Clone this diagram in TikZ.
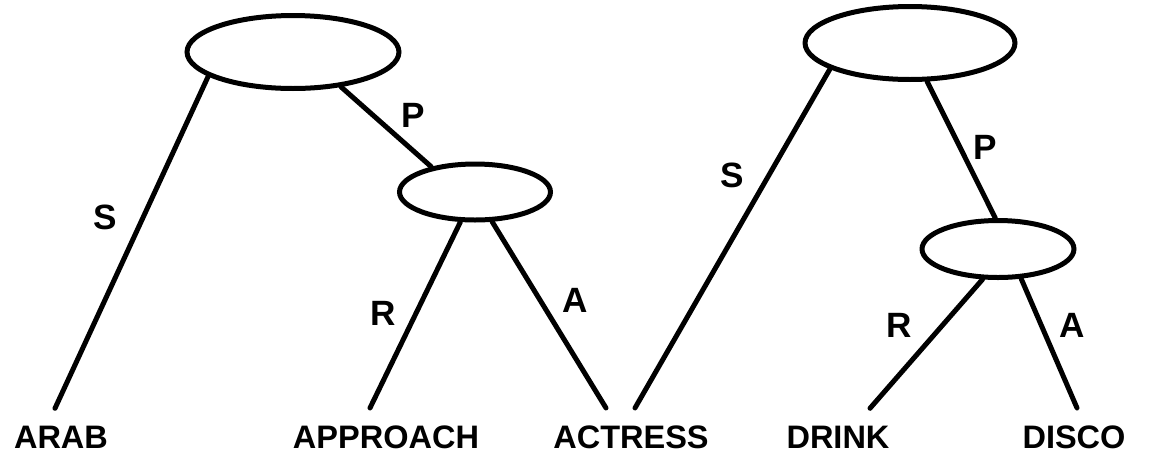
\documentclass[tikz,border=0pt]{standalone}
\usepackage{fontspec}
\setmainfont{Liberation Sans}
\usetikzlibrary{shapes.geometric}

\begin{document}
\begin{tikzpicture}[
        x=0.02cm, y=-0.02cm,
        frame/.style={draw, ellipse, line width=0.1cm, inner sep=0pt},
        word/.style={font=\bfseries\fontsize{18.5}{22}\selectfont, anchor=base,
                     inner xsep=0pt, inner ysep=0.34cm},
        role/.style={font=\bfseries\fontsize{20}{24}\selectfont, inner sep=0pt},
        link/.style={line width=0.1cm, line cap=round},
    ]
    \useasboundingbox (0,0) rectangle (1164,458);

    % ---------- frames ----------------------------------------------------
    \node[frame, minimum width=4.24cm, minimum height=1.46cm] (rootL) at ( 293, 52) {};
    \node[frame, minimum width=3.02cm, minimum height=1.12cm] (predL) at ( 475,192) {};
    \node[frame, minimum width=4.20cm, minimum height=1.46cm] (rootR) at ( 910, 43) {};
    \node[frame, minimum width=3.04cm, minimum height=1.14cm] (predR) at ( 998,249) {};

    % ---------- words -----------------------------------------------------
    \node[word] (arab)     at (  61,448) {ARAB};
    \node[word] (approach) at ( 386,448) {APPROACH};
    \node[word] (actress)  at ( 631,448) {ACTRESS};
    \node[word] (drink)    at ( 838,448) {DRINK};
    \node[word] (disco)    at (1074,448) {DISCO};

    % ---------- links -----------------------------------------------------
    \draw[link] (rootL.196) -- ([xshift=-0.12cm]arab.north);
    \draw[link] (rootL.324) -- (predL.150);
    \draw[link] (predL.244) -- ([xshift=-0.32cm]approach.north);
    \draw[link] (predL.300) -- ([xshift=-0.5cm]actress.north);
    \draw[link] (rootR.198) -- ([xshift=0.08cm]actress.north);
    \draw[link] (rootR.294) -- (predR.95);
    \draw[link] (predR.243) -- ([xshift=0.64cm]drink.north);
    \draw[link] (predR.308) -- ([xshift=0.06cm]disco.north);

    % ---------- roles -----------------------------------------------------
    \node[role] (sL) at ( 105,217) {S};
    \node[role] (pL) at ( 413,115) {P};
    \node[role] (rL) at ( 383,313) {R};
    \node[role] (aL) at ( 575,300) {A};
    \node[role] (sR) at ( 732,175) {S};
    \node[role] (pR) at ( 985,147) {P};
    \node[role] (rR) at ( 899,325) {R};
    \node[role] (aR) at (1072,325) {A};

\end{tikzpicture}
\end{document}
